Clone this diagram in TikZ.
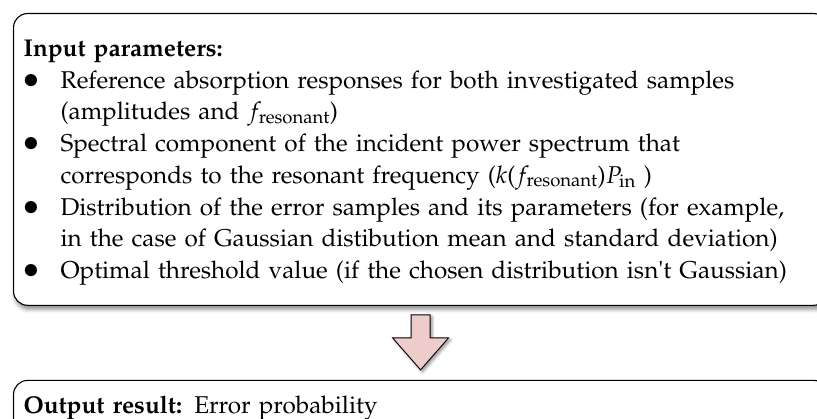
\documentclass[tikz,border=0pt]{standalone}
\usepackage[T1]{fontenc}
\usepackage{amsmath}
\usepackage{mathpazo}
\usepackage{color}
\usetikzlibrary{positioning,shadows.blur}

\definecolor{arrowpink}{RGB}{238,204,204}

\tikzset{
  panel/.style={draw=black, line width=1.1pt, fill=white, rounded corners=14pt,
    text width=794pt, inner xsep=10pt, inner ysep=20pt, align=left,
    blur shadow={shadow xshift=1.5pt, shadow yshift=-4pt, shadow blur radius=4pt, shadow opacity=45}},
  flowarrow/.style={draw=black, line width=0.9pt, fill=arrowpink,
    blur shadow={shadow xshift=2pt, shadow yshift=-2pt, shadow blur radius=3pt, shadow opacity=45}}
}
\newcommand{\itemdot}{\makebox[37pt][l]{\scalebox{1.25}{$\bullet$}}}
\newcommand{\itemgap}{\hspace*{37pt}}

\begin{document}
\begin{tikzpicture}[x=1pt,y=1pt]
                \useasboundingbox (0,0) rectangle (817,-419);
                \clip (0,0) rectangle (817,-419);
                \fontsize{24.3}{31.7}\selectfont
                % list of inputs
                \node[panel, anchor=north west, text height=23pt] (inputs) at (13,-13) {%
                  \textbf{Input parameters:}\\
                  \itemdot Reference absorption responses for both investigated samples\\
                  \itemgap (amplitudes and $f_{\mathrm{resonant}}$)\\
                  \itemdot Spectral component of the incident power spectrum that\\
                  \itemgap corresponds to the resonant frequency ($k$($f_{\mathrm{resonant}}$)$P_{\mathrm{in}}$ )\\
                  \itemdot Distribution of the error samples and its parameters (for example,\\
                  \itemgap in the case of Gaussian distibution mean and standard deviation)\\
                  \itemdot Optimal threshold value (if the chosen distribution isn\textquotesingle t Gaussian)};
                % result
                \node[panel, below=74pt of inputs, text height=13pt] (output) {%
                  \textbf{Output result:} Error probability};
                % block arrow between the boxes
                \begin{scope}[shift={(inputs.south)}]
                  \draw[flowarrow] (-9.5,-9) -- (9.5,-9) -- (9.5,-32) -- (28,-32) -- (0,-64)
                    -- (-28,-32) -- (-9.5,-32) -- cycle;
                \end{scope}
\end{tikzpicture}
\end{document}
